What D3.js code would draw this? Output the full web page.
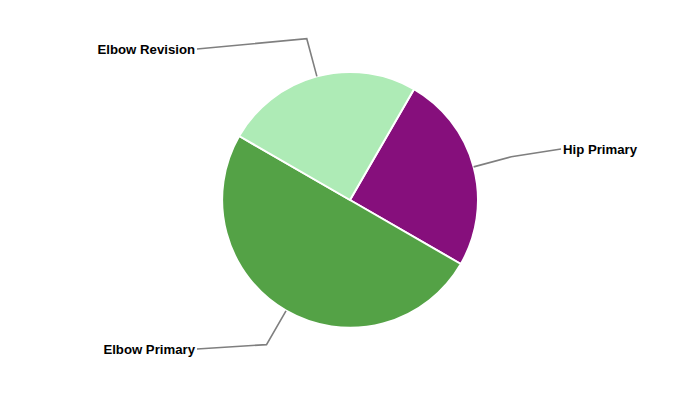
<!DOCTYPE html>
<html>
<head>
<meta charset="utf-8">
<script src="https://cdn.jsdelivr.net/npm/d3@7"></script>
<style>
  body { margin: 0; background: #fff; }
  svg text { font-family: "Liberation Sans", Arial, sans-serif; font-weight: bold; font-size: 13.2px; fill: #000; }
</style>
</head>
<body>
<div id="chart"></div>
<script>
// data
const categories = ["Hip Primary", "Elbow Primary", "Elbow Revision"];
const values = [1, 2, 1];
const colors = ["#860f7c", "#54a246", "#aeebb6"];

const width = 700, height = 400;
const center = {x: 350, y: 200};
const radius = 128;
const outerR = 167;
// where each label's leader line ends (relative to the centre)
const labelEnds = [[211, -51], [-153, 149], [-153, -151]];

let svg = d3.select("#chart")
  .append("svg")
  .attr("width", width)
  .attr("height", height);

let g = svg.append("g")
  .attr("transform", `translate(${center.x},${center.y})`);

let pie = d3.pie()
  .sort(null)
  .value(d => d.value)
  .startAngle(Math.PI / 6)
  .endAngle(Math.PI / 6 + 2 * Math.PI);

let arcs = pie(categories.map((c, i) => ({name: c, value: values[i], color: colors[i]})));

let arc = d3.arc().innerRadius(0).outerRadius(radius);

g.selectAll("path.slice")
  .data(arcs)
  .enter()
    .append("path")
    .attr("class", "slice")
    .attr("d", arc)
    .attr("fill", d => d.data.color)
    .attr("stroke", "#fff")
    .attr("stroke-width", 2);

function pointAt(angle, r) {
  return [r * Math.sin(angle), -r * Math.cos(angle)];
}

g.selectAll("polyline.leader")
  .data(arcs)
  .enter()
    .append("polyline")
    .attr("class", "leader")
    .attr("fill", "none")
    .attr("stroke", "#7f7f7f")
    .attr("stroke-width", 1.6)
    .attr("points", (d, i) => {
      let mid = (d.startAngle + d.endAngle) / 2;
      return [pointAt(mid, radius), pointAt(mid, outerR), labelEnds[i]].join(" ");
    });

g.selectAll("text.label")
  .data(arcs)
  .enter()
    .append("text")
    .attr("class", "label")
    .attr("x", (d, i) => labelEnds[i][0] + (labelEnds[i][0] > 0 ? 2 : -2))
    .attr("y", (d, i) => labelEnds[i][1])
    .attr("dy", "0.35em")
    .attr("text-anchor", (d, i) => labelEnds[i][0] > 0 ? "start" : "end")
    .text(d => d.data.name);
</script>
</body>
</html>
